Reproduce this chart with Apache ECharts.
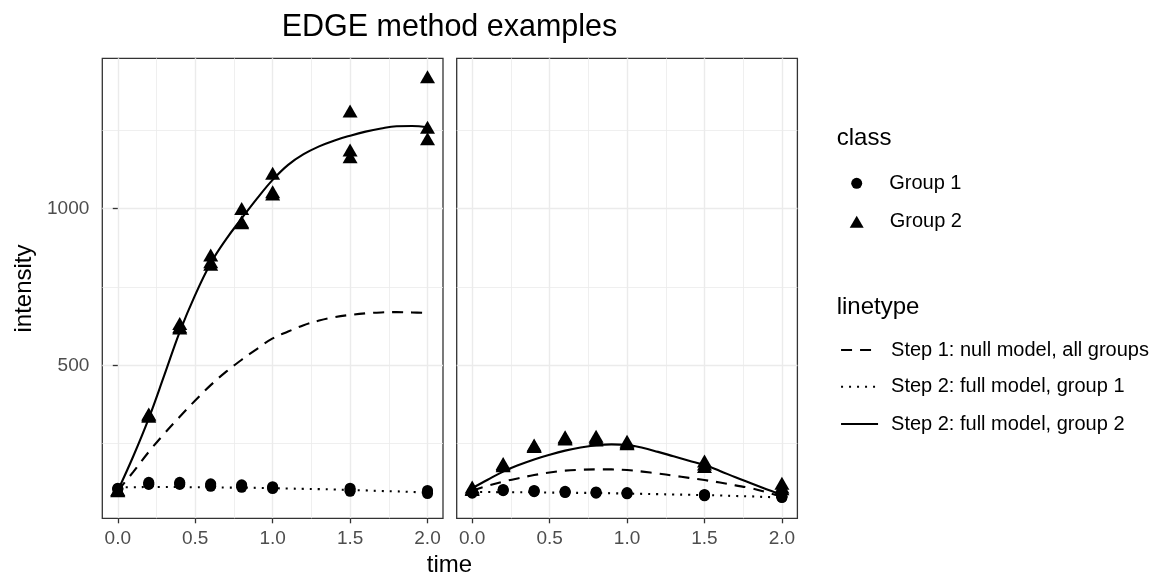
<!DOCTYPE html>
<html><head><meta charset="utf-8">
<script src="https://cdn.jsdelivr.net/npm/echarts@6/dist/echarts.min.js"></script>
<style>html,body{margin:0;padding:0;background:#fff}#c{width:1157px;height:576px}</style>
</head><body><div id="c"></div>
<script>
// ---- data ----
const obsTimes = [0, 0.2, 0.4, 0.6, 0.8, 1.0, 1.5, 2.0];
// left panel observations (3 replicates per time)
const leftGroup1 = [[108,106,104],[127,122,120],[127,123,120],[122,118,114],[119,115,111],[113,110,107],[108,103,98],[101,96,91]];
const leftGroup2 = [[100,102,104],[342,338,345],[634,623,619],[852,831,823],[1001,958,955],[1113,1054,1047],[1312,1187,1166],[1421,1260,1223]];
// right panel observations
const rightGroup1 = [[96,94,92],[104,102,100],[101,99,97],[98,96,94],[96,94,92],[94,92,90],[88,86,84],[82,80,78]];
const rightGroup2 = [[112,106,104],[187,183,180],[246,243,241],[272,268,265],[274,268,262],[258,253,250],[195,185,177],[124,112,106]];
// fitted curves
const fitTimes = [0,0.1,0.2,0.3,0.4,0.5,0.6,0.7,0.8,0.9,1.0,1.1,1.2,1.3,1.4,1.5,1.6,1.7,1.8,1.9,2.0];
const leftNull  = [100,160,224,282,336,388,437,480,518,553,586,608,628,643,654,661,666,669,670,669,667];
const leftFull1 = [111,111,112,112,112,111,111,110,110,109,108,107,106,105,104,102,101,99,98,96,94];
const leftFull2 = [100,210,331,468,607,725,826,903,969,1033,1092,1140,1174,1199,1218,1233,1246,1256,1263,1264,1260];
const rightNull  = [100,116,129,140,150,158,164,167,168,168,166,161,155,148,141,134,126,117,108,95,81];
const rightFull1 = [96,96,95,95,95,94,94,93,93,92,91,90,89,88,87,86,85,83,82,80,79];
const rightFull2 = [108,135,161,182,200,215,228,238,245,248,246,237,224,210,196,182,163,143,124,105,86];
// ticks
const xTicks = [0, 0.5, 1, 1.5, 2];
const xMinorTicks = [0.25, 0.75, 1.25, 1.75];
const yTicks = [500, 1000];
const yMinorTicks = [250, 750, 1250];
const classNames = ['Group 1', 'Group 2'];
const lineNames = ['Step 1: null model, all groups', 'Step 2: full model, group 1', 'Step 2: full model, group 2'];

// ---- build ----
const FONT = '"Liberation Sans", Arial, Helvetica, sans-serif';
const X_MIN = -0.1, X_MAX = 2.1, Y_MIN = 12, Y_MAX = 1480;
function pts(reps) { return obsTimes.flatMap((t, i) => reps[i].map(v => [t, v])); }
function curve(vals) { return fitTimes.map((t, i) => [t, vals[i]]); }

const grids = [
  {left: 102.3, top: 58.3, width: 340.7, height: 460, show: true, borderColor: '#333333', borderWidth: 1.3, backgroundColor: '#fff'},
  {left: 456.7, top: 58.3, width: 340.7, height: 460, show: true, borderColor: '#333333', borderWidth: 1.3, backgroundColor: '#fff'}
];
const xAxes = [], yAxes = [];
[0, 1].forEach(g => {
  xAxes.push({
    type: 'value', gridIndex: g, min: X_MIN, max: X_MAX,
    axisLine: {show: false},
    axisTick: {show: true, inside: false, length: 5, customValues: xTicks, lineStyle: {color: '#333333', width: 1.3}},
    axisLabel: {show: true, customValues: xTicks, margin: 11, color: '#4D4D4D', fontSize: 19, fontFamily: FONT,
      formatter: v => Number(v).toFixed(1)},
    splitLine: {show: true, lineStyle: {color: '#EBEBEB', width: 1.4}}
  });
  yAxes.push({
    type: 'value', gridIndex: g, min: Y_MIN, max: Y_MAX,
    axisLine: {show: false},
    axisTick: {show: g === 0, inside: false, length: 5, customValues: yTicks, lineStyle: {color: '#333333', width: 1.3}},
    axisLabel: {show: g === 0, customValues: yTicks, margin: 13, color: '#4D4D4D', fontSize: 19, fontFamily: FONT,
      formatter: v => String(Math.round(v))},
    splitLine: {show: true, lineStyle: {color: '#EBEBEB', width: 1.4}}
  });
});
[0, 1].forEach(g => {
  xAxes.push({
    type: 'value', gridIndex: g, min: X_MIN, max: X_MAX,
    axisLine: {show: false}, axisTick: {show: false, customValues: xMinorTicks}, axisLabel: {show: false, customValues: xMinorTicks},
    splitLine: {show: true, lineStyle: {color: '#EBEBEB', width: 0.8}}
  });
  yAxes.push({
    type: 'value', gridIndex: g, min: Y_MIN, max: Y_MAX,
    axisLine: {show: false}, axisTick: {show: false, customValues: yMinorTicks}, axisLabel: {show: false, customValues: yMinorTicks},
    splitLine: {show: true, lineStyle: {color: '#EBEBEB', width: 0.8}}
  });
});

const lineStyles = [
  {color: '#000', width: 2.1, type: [11, 8]},
  {color: '#000', width: 2.1, type: [2, 6]},
  {color: '#000', width: 2.1, type: 'solid'}
];
const panelFits = [[leftNull, leftFull1, leftFull2], [rightNull, rightFull1, rightFull2]];
const panelObs = [[leftGroup1, leftGroup2], [rightGroup1, rightGroup2]];
const series = [];
[0, 1].forEach(g => {
  series.push({name: classNames[0], type: 'scatter', xAxisIndex: g, yAxisIndex: g, symbol: 'circle', symbolSize: 11,
    itemStyle: {color: '#000', opacity: 1}, data: pts(panelObs[g][0]), z: 3});
  series.push({name: classNames[1], type: 'scatter', xAxisIndex: g, yAxisIndex: g, symbol: 'triangle', symbolSize: [15, 13],
    itemStyle: {color: '#000', opacity: 1}, data: pts(panelObs[g][1]), z: 3});
  panelFits[g].forEach((vals, k) => {
    series.push({name: lineNames[k], type: 'line', xAxisIndex: g, yAxisIndex: g, smooth: 0.4, symbol: 'none', showSymbol: false,
      itemStyle: {color: '#000'}, lineStyle: lineStyles[k], data: curve(vals), z: 4, animation: false});
  });
});

const legendBase = {orient: 'vertical', padding: 0, selectedMode: false,
  textStyle: {fontSize: 20, color: '#000', fontFamily: FONT, lineHeight: 20}};
const legends = [
  Object.assign({}, legendBase, {data: [classNames[0]], left: 851.2, top: 173.3, itemWidth: 11, itemHeight: 11,
    itemStyle: {opacity: 1},
    textStyle: Object.assign({}, legendBase.textStyle, {padding: [0, 0, 0, 22]})}),
  Object.assign({}, legendBase, {data: [classNames[1]], left: 849.7, top: 211.7, itemWidth: 14, itemHeight: 12,
    itemStyle: {opacity: 1},
    textStyle: Object.assign({}, legendBase.textStyle, {padding: [0, 0, 0, 21]})}),
];
[350, 386.7, 424].forEach((cy, k) => {
  legends.push(Object.assign({}, legendBase, {data: [lineNames[k]], left: 840, top: cy - 10, itemWidth: 37, itemHeight: 12,
    lineStyle: {width: 2.1},
    itemStyle: {color: 'rgba(0,0,0,0)', opacity: 0, borderWidth: 0},
    textStyle: Object.assign({}, legendBase.textStyle, {padding: [0, 0, 0, 8]})}));
});

const txt = (text, x, y, size) => ({type: 'text', x: x, y: y, silent: true,
  style: {text: text, fontSize: size, fontFamily: FONT, fill: '#000', align: 'left', verticalAlign: 'middle'}});

const chart = echarts.init(document.getElementById('c'), null, {renderer: 'canvas'});
chart.setOption({
  animation: false,
  backgroundColor: '#fff',
  grid: grids, xAxis: xAxes, yAxis: yAxes, series: series, legend: legends,
  graphic: [
    {type: 'text', x: 449.5, y: 28, silent: true, style: {text: 'EDGE method examples', fontSize: 30.5, fontFamily: FONT, fill: '#000', align: 'center', verticalAlign: 'middle'}},
    {type: 'text', x: 449.5, y: 565.5, silent: true, style: {text: 'time', fontSize: 24, fontFamily: FONT, fill: '#000', align: 'center', verticalAlign: 'middle'}},
    {type: 'text', x: 24, y: 288.5, rotation: Math.PI / 2, silent: true, style: {text: 'intensity', fontSize: 24, fontFamily: FONT, fill: '#000', align: 'center', verticalAlign: 'middle'}},
    txt('class', 836.7, 138, 24),
    txt('linetype', 836.7, 307, 24)
  ]
});
</script></body></html>
